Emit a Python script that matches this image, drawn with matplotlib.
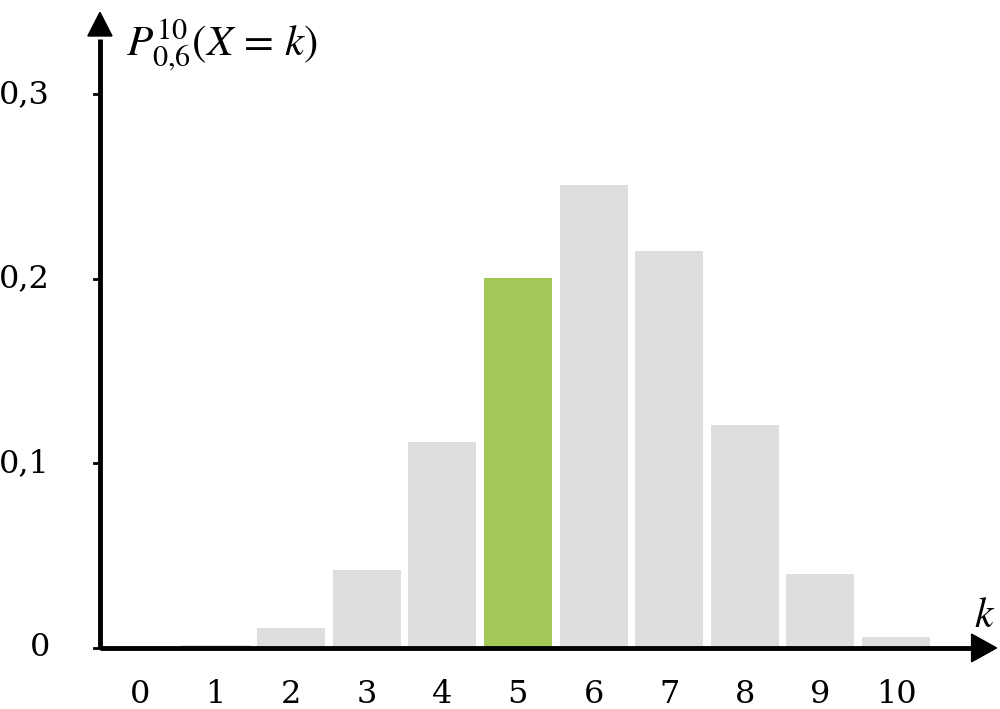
import numpy as np
import matplotlib
matplotlib.use("Agg")
import matplotlib.pyplot as plt
from matplotlib.patches import Polygon

plt.rcParams['mathtext.fontset'] = 'stix'
plt.rcParams['font.family'] = ['DejaVu Serif']

k = [0, 1, 2, 3, 4, 5, 6, 7, 8, 9, 10]
prob = [0.0001, 0.0016, 0.0106, 0.0425, 0.1115, 0.2007, 0.2508, 0.2150, 0.1209, 0.0403, 0.0060]
highlight = 5
y_ticks = [0, 0.1, 0.2, 0.3]
y_labels = ['0', '0,1', '0,2', '0,3']

grey = '#dddddd'
green = '#a2c957'

fig = plt.figure(figsize=(10, 7.09), dpi=100)
ax = fig.add_axes([0, 0, 1, 1])
ax.set_xlim(-1.852, 11.376)
ax.set_ylim(-0.0331, 0.3512)
ax.axis('off')

colors = [green if v == highlight else grey for v in k]
ax.bar(k, prob, width=0.9, color=colors, zorder=1)

# axes with arrows
x0 = -0.53
ax.plot([x0, 11.0], [0, 0], color='black', lw=3.5, solid_capstyle='butt', zorder=3)
ax.plot([x0, x0], [-0.0005, 0.33], color='black', lw=3.5, solid_capstyle='butt', zorder=3)
ax.add_patch(Polygon([[11.0, 0.0075], [11.0, -0.0075], [11.33, 0]], closed=True,
                     color='black', zorder=3))
ax.add_patch(Polygon([[x0 - 0.16, 0.3317], [x0 + 0.16, 0.3317], [x0, 0.3445]], closed=True,
                     color='black', zorder=3))

for yv, lab in zip(y_ticks, y_labels):
    ax.plot([x0 - 0.08, x0], [yv, yv], color='black', lw=2, zorder=3)
    ax.text(-1.19, yv, lab, ha='right', va='center', fontsize=23)

for v in k:
    ax.text(v, -0.025, str(v), ha='center', va='center', fontsize=23)

ax.text(-0.18, 0.327, r'$P^{10}_{0{,}6}(X\,=\,k)$', ha='left', va='center', fontsize=31)
ax.text(11.17, 0.018, r'$k$', ha='center', va='center', fontsize=30)

fig.savefig('out.png', dpi=100)
